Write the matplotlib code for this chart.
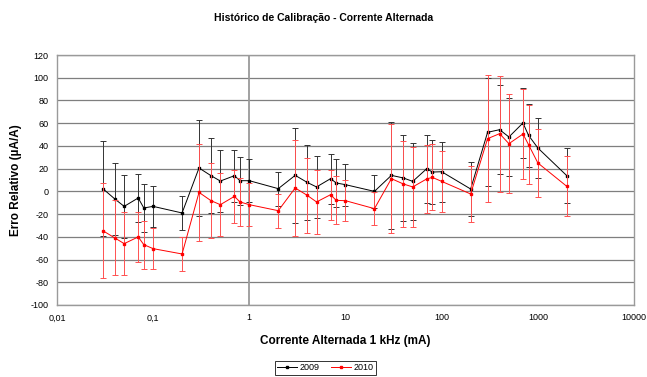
import numpy as np
import matplotlib
matplotlib.use("Agg")
import matplotlib.pyplot as plt

plt.rcParams['font.family'] = ['Liberation Sans', 'DejaVu Sans']
plt.rcParams['axes.unicode_minus'] = False

corrente = [0.03, 0.04, 0.05, 0.07, 0.08, 0.1, 0.2, 0.3, 0.4, 0.5, 0.7, 0.8, 1,
            2, 3, 4, 5, 7, 8, 10, 20, 30, 40, 50, 70, 80, 100,
            200, 300, 400, 500, 700, 800, 1000, 2000]

erro_2009 = [2.4, -6.7, -13.2, -5.8, -14.6, -13.2, -19, 20.6, 13.8, 9.1, 13.8, 9.4, 9.4,
             2.4, 14.1, 7.9, 3.9, 11.2, 7.4, 5.9, 0, 14.1, 11.8, 8.8, 20, 17, 17.3,
             2.1, 52, 54.3, 47.9, 60.2, 49.3, 38.2, 13.8]
erro_2010 = [-34.6, -41, -46, -40.1, -46.9, -50.4, -55.1, -0.9, -8.2, -11.7, -4.4, -9.3, -11.7,
             -17, 3, -3.5, -9.3, -2.9, -7.9, -8.2, -15.2, 11.2, 6.5, 3.9, 11, 12.3, 8.8,
             -2.3, 46.4, 50.8, 42, 50.5, 41.1, 25, 4.4]

inc_2009 = [42, 32, 28, 21, 21, 18, 15, 42, 33, 27.5, 23, 21, 19,
            15, 42, 33, 27, 22, 21, 18.5, 14.5, 47, 38, 34, 30, 28, 26.5,
            24, 47.5, 39, 34.5, 30.5, 27.5, 26.5, 24]
inc_2010 = [42, 33, 28, 22, 21, 18, 15, 42.5, 33, 27.5, 23, 21, 19,
            15, 42, 33, 28, 22, 21, 18, 14.5, 48, 38, 35, 30, 29, 27,
            25, 56, 51, 43.5, 40, 35, 30, 26.5]

xticks = [0.01, 0.1, 1, 10, 100, 1000, 10000]
xlabels = ['0,01', '0,1', '1', '10', '100', '1000', '10000']
yticks = list(range(-100, 121, 20))

fig = plt.figure(figsize=(6.47, 3.77), dpi=100)
ax = fig.add_axes([0.088, 0.191, 0.892, 0.663])

ax.set_xscale('log')
ax.set_xlim(0.01, 10000)
ax.set_ylim(-100, 120)

for y in yticks:
    ax.axhline(y, color='#7f7f7f', lw=0.9, zorder=1)
ax.axvline(1, color='#9a9a9a', lw=1.3, zorder=1)

ax.errorbar(corrente, erro_2009, yerr=inc_2009, color='black', lw=0.7,
            marker='s', ms=2, elinewidth=0.7, capsize=2, capthick=0.7,
            ecolor='#333333', label='2009', zorder=3)
ax.errorbar(corrente, erro_2010, yerr=inc_2010, color='red', lw=0.7,
            marker='s', ms=2, elinewidth=0.7, capsize=2, capthick=0.7,
            ecolor='#ff5050', label='2010', zorder=4)

ax.set_xticks(xticks)
ax.set_xticklabels(xlabels)
ax.xaxis.set_minor_locator(matplotlib.ticker.NullLocator())
ax.set_yticks(yticks)
ax.tick_params(axis='both', labelsize=6.5, length=0, pad=6)

for s in ax.spines.values():
    s.set_color('#9a9a9a')
    s.set_linewidth(1.0)

ax.set_xlabel('Corrente Alternada 1 kHz (mA)', fontsize=8.5, fontweight='bold', labelpad=9)
ax.set_ylabel('Erro Relativo (µA/A)', fontsize=8.5, fontweight='bold', labelpad=6)
fig.text(0.5, 0.951, 'Histórico de Calibração - Corrente Alternada',
         ha='center', va='center', fontsize=7.5, fontweight='bold')

handles, labels = ax.get_legend_handles_labels()
handles = [h[0] for h in handles]
leg = fig.legend(handles, labels, loc='center', bbox_to_anchor=(0.503, 0.024),
                 ncol=2, fontsize=6.5, frameon=True, fancybox=False,
                 handlelength=2.2, handletextpad=0.3, columnspacing=1.2,
                 borderpad=0.3, markerscale=0.8)
leg.get_frame().set_edgecolor('black')
leg.get_frame().set_linewidth(0.7)

fig.savefig('out.png', dpi=100)
